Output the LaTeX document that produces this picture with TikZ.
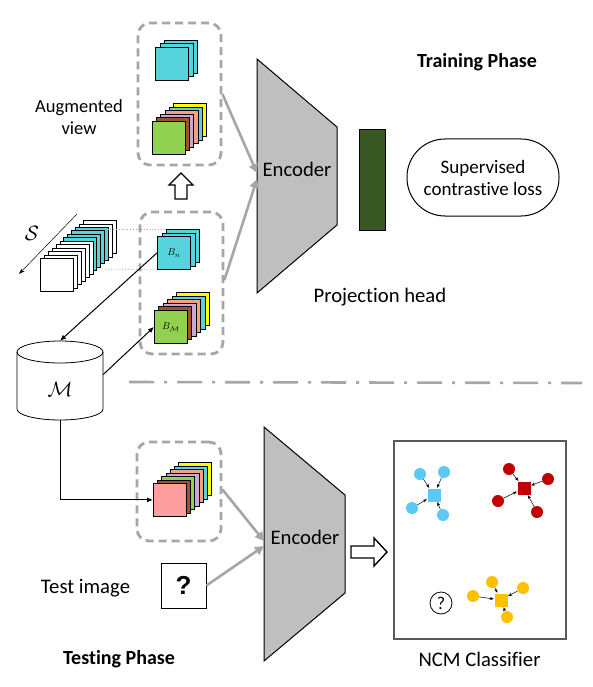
\documentclass[tikz,border=0pt]{standalone}
\usepackage{fontspec}
\setmainfont{Carlito}[Ligatures=NoCommon]
\newfontfamily\arialfont{Liberation Sans}
\usetikzlibrary{arrows.meta,calc}
\definecolor{cy}{HTML}{57D3DB}
\definecolor{lg}{HTML}{92D050}
\definecolor{brn}{HTML}{A0522D}
\definecolor{lav}{HTML}{C8A8D4}
\definecolor{sal}{HTML}{F8A07E}
\definecolor{yel}{HTML}{FFFF00}
\definecolor{pk}{HTML}{FF9E9E}
\definecolor{lgray}{HTML}{A6A6A6}
\definecolor{encgray}{HTML}{BFBFBF}
\definecolor{dgreen}{HTML}{385723}
\definecolor{cblue}{HTML}{5BC8F5}
\definecolor{cred}{HTML}{C00000}
\definecolor{cyel}{HTML}{FFC000}
\definecolor{ncmgray}{HTML}{595959}
\tikzset{
  card/.style={draw=black, line width=0.8pt, minimum size=33pt, inner sep=0pt, anchor=north west},
  dbox/.style={draw=lgray, line width=2.8pt, dash pattern=on 8pt off 5pt, rounded corners=12pt, inner sep=0pt},
  garrow/.style={draw=lgray, line width=2.6pt, -{Triangle[length=9pt,width=9pt]}},
  barrow/.style={draw=black, line width=1pt, -{Latex[length=6pt,width=5pt]}},
  encshape/.style={draw=black, line width=1pt, fill=encgray},
  txt/.style={font=\fontsize{20.7}{24}\selectfont},
  btxt/.style={font=\bfseries\fontsize{20}{23}\selectfont},
  hollow/.style={draw=black, line width=1.4pt, fill=white},
  pt/.style={circle, fill=#1, minimum size=12pt, inner sep=0pt},
  ctr/.style={fill=#1, minimum size=13pt, inner sep=0pt},
  carrow/.style={line width=0.5pt, -{Stealth[length=4pt,width=3pt]}, shorten >=0.5pt}
}
% #1 name, #2 x, #3 y (front top-left), #4 dx, #5 dy (upward), #6 number of back cards, #7 back colours (back to front), #8 front colour
\newcommand\cardstack[8]{%
  \foreach \col [count=\k] in {#7} {
    \pgfmathsetmacro\off{#6-\k+1}
    \node[card, fill=\col] (#1-\k) at ({#2+\off*#4},{#3-\off*#5}) {};
  }
  \node[card, fill=#8] (#1) at (#2,#3) {};
}
\begin{document}
\begin{tikzpicture}[x=1pt,y=-1pt]
\useasboundingbox[fill=white] (0,0) rectangle (592,687);

% ---------- Training phase ----------
\node[dbox, minimum width=83pt, minimum height=142pt] (augbox) at (179.5,94) {};
\node[dbox, minimum width=83pt, minimum height=142pt] (trbox) at (181.5,283) {};

\cardstack{augA}{155}{47}{4.5}{3.5}{2}{cy,cy}{cy}
\cardstack{augB}{152}{121}{4.2}{3.6}{5}{yel,cy,sal,lav,brn}{lg}

\node[align=center, font=\fontsize{18.5}{22}\selectfont] (augtxt) at (79,117) {Augmented\\view};

% hollow up arrow
\draw[hollow] (175,199) -- (175,185) -- (169,185) -- (181,173) -- (193,185) -- (187,185) -- (187,199) -- cycle;

% S stream
\cardstack{sst}{40}{258}{3.9}{3.45}{11}{white,white,cy,cy,cy,cy,white,white,white,white,white}{white}
\coordinate (sa) at (77,214);
\coordinate (sb) at (19,274);
\draw[line width=0.5pt, -{Stealth[length=6pt,width=4pt]}] (sa) -- (sb);
\node[font=\fontsize{22}{24}\selectfont] (slab) at (32,233) {$\mathcal{S}$};

\cardstack{bn}{157}{236}{4.5}{3.5}{2}{cy,cy}{cy}
\node[font=\fontsize{10}{12}\selectfont] (bnlab) at (bn.center) {$B_n$};
\cardstack{bm}{154}{310}{4.4}{3.6}{5}{yel,cy,sal,lav,brn}{lg}
\node[font=\fontsize{10}{12}\selectfont] (bmlab) at (bm.center) {$B_{\mathcal{M}}$};

\coordinate (dta) at (88,229);
\coordinate (dtb) at (97,269);
\draw[lgray, line width=0.8pt, dotted] (dta) -- (bn-1.north west);
\draw[lgray, line width=0.8pt, dotted] (dtb) -- (bn.south west);

% memory cylinder
\node[minimum width=86pt, minimum height=79pt, inner sep=0pt] (mem) at (60,380.5) {};
\draw[line width=0.8pt, fill=white] (17,352) -- (17,409) arc[start angle=180, end angle=360, x radius=43pt, y radius=11pt] -- (103,352) arc[start angle=0, end angle=180, x radius=43pt, y radius=11pt] -- cycle;
\draw[line width=0.8pt] (17,352) arc[start angle=180, end angle=360, x radius=43pt, y radius=11pt];
\node[font=\fontsize{22}{24}\selectfont] (memlab) at (60,389) {$\mathcal{M}$};

\draw[barrow] (bn.west) -- (mem.north);
\draw[barrow] ([yshift=6pt]mem.east) -- (bm.west);

% encoder (training)
\draw[encshape] (257,59) -- (337,127) -- (337,225) -- (257,293) -- cycle;
\node[txt] (enc1) at (297,169) {Encoder};
\coordinate (enc1a) at (257,173);
\coordinate (enc1b) at (257,179);
\draw[garrow] (augbox.east) -- (enc1a);
\draw[garrow] ([yshift=3pt]trbox.east) -- (enc1b);

\node[draw=black, line width=1pt, fill=dgreen, minimum width=26pt, minimum height=100pt, inner sep=0pt] (proj) at (372,180) {};
\node[txt] (projtxt) at (380,297) {Projection head};
\node[draw=black, line width=1pt, rounded corners=38pt, minimum width=152pt, minimum height=77pt, align=center, font=\fontsize{19}{22}\selectfont] (loss) at (483,177.5) {Supervised\\contrastive loss};
\node[btxt] (train) at (477,62) {Training Phase};

% separator
\draw[lgray, line width=2.6pt, dash pattern=on 25pt off 10pt on 3pt off 10pt] (129,382) -- (582,383);

% ---------- Testing phase ----------
\node[dbox, minimum width=84pt, minimum height=99pt] (tsbox) at (179,491.5) {};
\cardstack{ts}{153}{483}{4.2}{3.5}{6}{yel,cy,sal,lav,lg,brn}{pk}
\draw[line width=1pt, -{Latex[length=6pt,width=5pt]}] (mem.south) |- (ts.west);

\node[draw=black, line width=0.8pt, minimum size=45pt, inner sep=0pt, font=\arialfont\bfseries\fontsize{26}{28}\selectfont] (qbox) at (183.5,585.5) {?};
\node[txt] (testimg) at (85.5,588) {Test image};

\draw[encshape] (264,427) -- (345,495) -- (345,593) -- (264,661) -- cycle;
\node[txt] (enc2) at (305,537) {Encoder};
\coordinate (enc2a) at (264,541);
\coordinate (enc2b) at (264,546);
\draw[garrow] ([yshift=2pt]tsbox.east) -- (enc2a);
\draw[garrow] (qbox.east) -- (enc2b);

\draw[hollow] (351,546) -- (374,546) -- (374,538) -- (387,552) -- (374,566) -- (374,558) -- (351,558) -- cycle;

\node[btxt] (testph) at (119,659) {Testing Phase};

% NCM classifier
\node[draw=ncmgray, line width=1.2pt, minimum width=172pt, minimum height=198pt, inner sep=0pt] (ncm) at (480,540) {};
\node[txt] (ncmtxt) at (479.5,659) {NCM Classifier};

\node[ctr=cblue] (bc) at (434,495) {};
\node[pt=cblue] (b1) at (420,474) {};
\node[pt=cblue] (b2) at (444,472) {};
\node[pt=cblue] (b3) at (412,508) {};
\node[pt=cblue] (b4) at (443,515) {};
\foreach \p in {b1,b2,b3,b4} \draw[carrow] (\p) -- (bc);

\node[ctr=cred] (rc) at (524,488) {};
\node[pt=cred] (r1) at (509,469) {};
\node[pt=cred] (r2) at (548,479) {};
\node[pt=cred] (r3) at (498,501) {};
\node[pt=cred] (r4) at (537,512) {};
\foreach \p in {r1,r2,r3,r4} \draw[carrow] (\p) -- (rc);

\node[ctr=cyel] (yc) at (501,600) {};
\node[pt=cyel] (y1) at (492,582) {};
\node[pt=cyel] (y2) at (523,588) {};
\node[pt=cyel] (y3) at (473,596) {};
\node[pt=cyel] (y4) at (507,617) {};
\foreach \p in {y1,y2,y3,y4} \draw[carrow] (\p) -- (yc);

\node[circle, draw=black, line width=0.8pt, minimum size=22pt, inner sep=0pt, font=\fontsize{18}{20}\selectfont] (qc) at (441,603) {?};
\end{tikzpicture}
\end{document}
